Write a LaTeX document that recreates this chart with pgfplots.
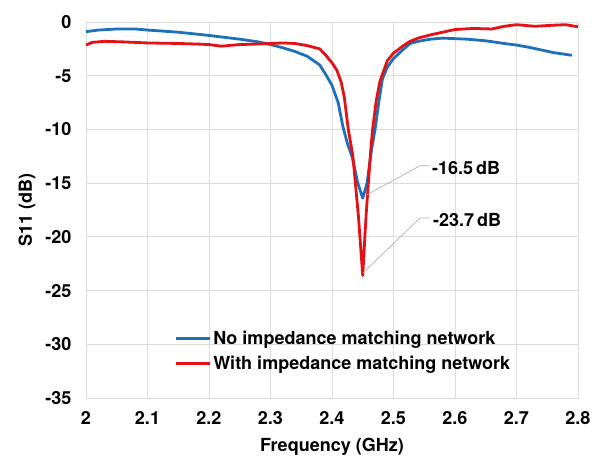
\documentclass[border=0pt]{standalone}
\usepackage{fontspec}
\setmainfont{TeX Gyre Heros}
\usepackage{pgfplots}
\pgfplotsset{compat=1.18}
\definecolor{cblue}{RGB}{30,113,184}
\definecolor{cred}{RGB}{228,18,22}
\definecolor{cgrid}{RGB}{220,220,220}
\newcommand{\bigf}{\fontsize{18}{21}\selectfont\bfseries}
\begin{document}
\begin{tikzpicture}
\begin{axis}[
  at={(0,0)}, anchor=south west,
  scale only axis, width=492pt, height=376pt,
  xmin=2, xmax=2.8, ymin=-35, ymax=0,
  xtick={2,2.1,...,2.8}, ytick={-35,-30,...,0},
  xticklabels={2,2.1,2.2,2.3,2.4,2.5,2.6,2.7,2.8},
  /pgf/number format/assume math mode=true,
  major tick length=0pt,
  grid=major, grid style={cgrid, line width=0.8pt},
  axis line style={cgrid, line width=0.8pt},
  tick label style={font=\bigf},
  xticklabel style={yshift=-10pt},
  yticklabel style={xshift=-11pt},
  xlabel={Frequency (GHz)}, ylabel={S11 (dB)},
  label style={font=\bigf},
  xlabel style={at={(axis description cs:0.5,-0.13)}, anchor=center},
  ylabel style={at={(axis description cs:-0.12,0.5)}, anchor=center, rotate=0},
  legend style={at={(axis description cs:0.18,0.184)}, anchor=north west, draw=none, fill=none,
    font=\bigf, row sep=6pt, inner sep=0pt},
  legend cell align=left,
  legend image code/.code={\draw[#1, line width=2.5pt] (0pt,0pt) -- (34pt,0pt);},
  clip=false,
]
\addplot[cblue, line width=2.8pt, line join=round] coordinates {
(2.00,-0.9) (2.02,-0.75) (2.05,-0.65) (2.08,-0.65) (2.10,-0.75) (2.15,-0.95)
(2.20,-1.25) (2.25,-1.6) (2.28,-1.85) (2.30,-2.1) (2.32,-2.4) (2.34,-2.75)
(2.36,-3.2) (2.38,-4.0) (2.39,-4.9) (2.40,-5.9) (2.41,-7.5) (2.418,-9.8)
(2.425,-11.3) (2.433,-12.6) (2.442,-15.0) (2.45,-16.4) (2.457,-15.0)
(2.464,-12.0) (2.47,-10.0) (2.476,-7.5) (2.482,-5.3) (2.49,-4.2) (2.50,-3.4)
(2.515,-2.6) (2.527,-2.0) (2.54,-1.8) (2.56,-1.6) (2.58,-1.5) (2.60,-1.55)
(2.62,-1.6) (2.65,-1.75) (2.68,-2.0) (2.70,-2.15) (2.72,-2.35) (2.74,-2.6)
(2.76,-2.85) (2.79,-3.1)
};
\addlegendentry{No impedance matching network}
\addplot[cred, line width=2.8pt, line join=round] coordinates {
(2.00,-2.15) (2.01,-1.9) (2.03,-1.8) (2.06,-1.85) (2.10,-1.95) (2.15,-2.0)
(2.18,-2.05) (2.20,-2.1) (2.22,-2.25) (2.25,-2.1) (2.28,-2.05) (2.30,-2.0)
(2.32,-1.95) (2.34,-2.0) (2.36,-2.2) (2.38,-2.5) (2.39,-3.1) (2.40,-3.8)
(2.408,-4.5) (2.415,-5.6) (2.42,-7.0) (2.4265,-10.0) (2.434,-12.5) (2.443,-18.1) (2.45,-23.6)
(2.4553,-18.1) (2.463,-11.9) (2.466,-10.0) (2.472,-7.3) (2.478,-5.5) (2.49,-3.6)
(2.50,-2.9) (2.516,-2.2) (2.527,-1.8) (2.54,-1.5) (2.56,-1.2) (2.58,-0.95)
(2.60,-0.7) (2.63,-0.6) (2.66,-0.65) (2.68,-0.4) (2.70,-0.25) (2.73,-0.4)
(2.76,-0.3) (2.78,-0.25) (2.80,-0.45)
};
\addlegendentry{With impedance matching network}
\draw[gray!60, line width=0.7pt] (axis cs:2.4564,-16.1) -- (axis cs:2.5431,-13.38) -- (axis cs:2.5593,-13.38);
\draw[gray!60, line width=0.7pt] (axis cs:2.4504,-23.36) -- (axis cs:2.5431,-18.24) -- (axis cs:2.5593,-18.24);
\node[anchor=west, inner sep=0pt, font=\bigf] at (axis cs:2.5626,-13.59) {-16.5\,dB};
\node[anchor=west, inner sep=0pt, font=\bigf] at (axis cs:2.5642,-18.43) {-23.7\,dB};
\end{axis}
\pgfresetboundingbox
\path (-86pt,-59pt) rectangle (512pt,398pt);
\end{tikzpicture}
\end{document}
